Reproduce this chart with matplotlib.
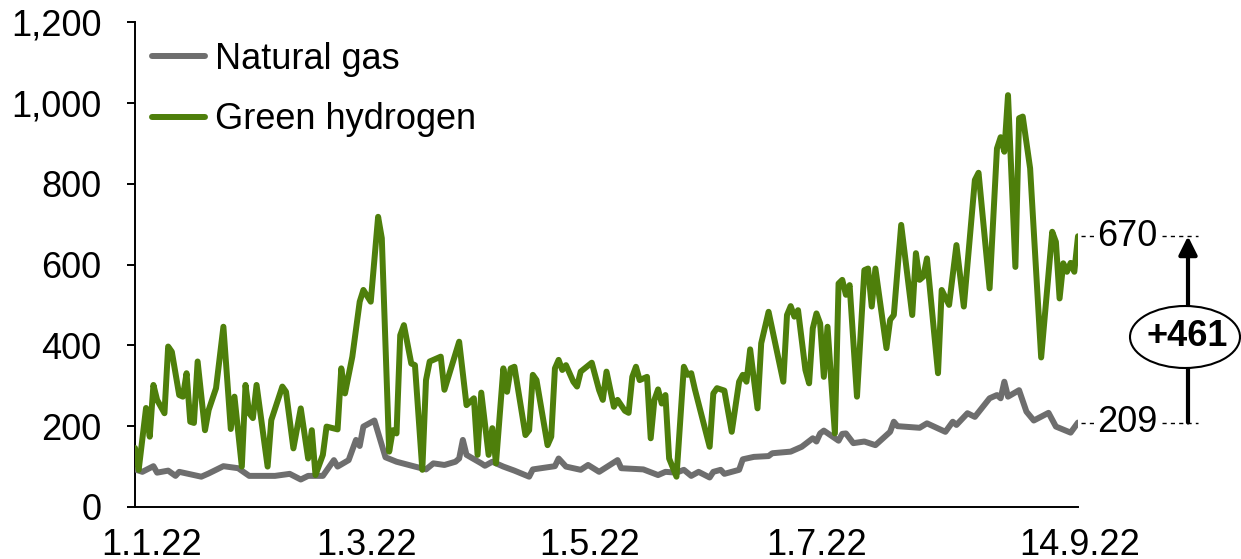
import numpy as np
import matplotlib
matplotlib.use("Agg")
import matplotlib.pyplot as plt
import matplotlib.transforms as mtransforms
from matplotlib.patches import Ellipse
from matplotlib.ticker import FuncFormatter

plt.rcParams['font.family'] = ['Liberation Sans', 'DejaVu Sans']

# Prices in EUR/MWh, indexed by days since 1 Jan 2022
gas_day = [0, 2, 5, 6, 9, 11, 12, 18, 20, 24, 28, 31, 38, 42, 45, 47, 51, 52, 54, 55,
           58, 60, 61, 62, 65, 68, 71, 76, 79, 81, 84, 87, 88, 89, 90, 94, 95, 97, 100, 103,
           107, 108, 114, 115, 117, 121, 123, 126, 131, 132, 138, 142, 144, 147, 149, 151, 153, 156, 157, 159,
           160, 164, 165, 168, 172, 173, 178, 181, 184, 185, 186, 187, 191, 192, 193, 195, 198, 201, 205, 206,
           207, 213, 215, 220, 222, 223, 226, 228, 232, 234, 235, 236, 237, 240, 242, 244, 248, 250, 254, 256]
gas_price = [93, 87, 101, 85, 90, 77, 87, 75, 83, 101, 96, 77, 77, 82, 68, 77, 77, 90, 116, 100,
             116, 166, 151, 199, 214, 123, 112, 100, 93, 108, 104, 112, 120, 166, 129, 108, 102, 112, 100, 90,
             75, 93, 101, 120, 100, 92, 104, 87, 116, 96, 93, 79, 87, 85, 92, 77, 87, 73, 87, 92,
             82, 92, 118, 124, 126, 133, 137, 149, 170, 162, 182, 189, 164, 181, 182, 158, 162, 153, 186, 211,
             200, 196, 207, 186, 211, 203, 232, 223, 269, 277, 269, 310, 273, 289, 236, 214, 233, 199, 184, 209]

h2_day = [0, 1, 3, 4, 5, 6, 8, 9, 10, 12, 13, 14, 15, 16, 17, 19, 20, 22, 24, 26,
          27, 29, 30, 31, 32, 33, 36, 37, 40, 41, 43, 45, 47, 48, 49, 51, 52, 55, 56, 57,
          59, 61, 62, 64, 66, 67, 69, 70, 71, 72, 73, 75, 76, 78, 79, 80, 83, 84, 88, 90,
          92, 93, 94, 96, 97, 98, 100, 101, 102, 103, 106, 107, 108, 109, 112, 113, 114, 115, 116, 117,
          119, 120, 121, 124, 126, 127, 128, 130, 131, 133, 134, 135, 136, 137, 139, 140, 141, 142, 143, 144,
          145, 147, 149, 150, 151, 152, 156, 157, 158, 160, 162, 164, 165, 166, 167, 169, 170, 172, 176, 177,
          178, 179, 180, 182, 183, 184, 185, 186, 187, 188, 190, 191, 192, 193, 194, 196, 198, 199, 200, 201,
          204, 205, 206, 208, 211, 212, 213, 214, 215, 218, 219, 221, 223, 225, 228, 229, 232, 234, 235, 236,
          237, 239, 240, 241, 243, 246, 249, 250, 251, 252, 253, 254, 255, 256]
h2_price = [146, 92, 245, 174, 302, 265, 232, 397, 384, 277, 273, 331, 211, 208, 360, 190, 240, 294, 446, 193,
            273, 100, 302, 232, 220, 302, 100, 215, 298, 285, 145, 244, 120, 190, 79, 129, 199, 192, 343, 281,
            372, 508, 537, 508, 718, 665, 137, 190, 182, 425, 450, 355, 351, 92, 314, 360, 372, 290, 409, 252,
            269, 129, 283, 129, 195, 108, 343, 285, 343, 347, 178, 190, 327, 314, 153, 174, 343, 364, 339, 351,
            310, 298, 335, 357, 289, 265, 335, 248, 265, 238, 233, 322, 347, 314, 322, 170, 265, 291, 256, 277,
            120, 75, 347, 327, 331, 291, 149, 281, 294, 288, 186, 310, 327, 310, 390, 244, 405, 483, 310, 475,
            497, 471, 487, 339, 306, 442, 479, 454, 322, 446, 182, 553, 562, 525, 549, 273, 586, 590, 496, 590,
            393, 463, 475, 698, 475, 628, 562, 570, 615, 331, 537, 500, 648, 496, 809, 827, 541, 887, 915, 879,
            1019, 594, 962, 966, 838, 370, 681, 656, 516, 603, 582, 604, 582, 670]

series_names = ['Natural gas', 'Green hydrogen']
y_ticks = [0, 200, 400, 600, 800, 1000, 1200]
x_tick_dates = ['2022-01-01', '2022-03-01', '2022-05-01', '2022-07-01', '2022-09-14']
x_tick_labels = ['1.1.22', '1.3.22', '1.5.22', '1.7.22', '14.9.22']

GAS_COLOR = '#6E6E6E'
H2_COLOR = '#4E7F0B'
FS = 26
LW = 4.3

start = np.datetime64('2022-01-01')
gas_dates = start + np.array(gas_day, dtype='timedelta64[D]')
h2_dates = start + np.array(h2_day, dtype='timedelta64[D]')

W, H = 1241, 559
fig = plt.figure(figsize=(W / 100, H / 100), dpi=100)
ax = fig.add_axes([135 / W, 1 - 507 / H, 943 / W, 485 / H])

ax.plot(gas_dates, gas_price, color=GAS_COLOR, lw=LW, label=series_names[0],
        solid_joinstyle='round', solid_capstyle='round', zorder=3)
ax.plot(h2_dates, h2_price, color=H2_COLOR, lw=LW, label=series_names[1],
        solid_joinstyle='round', solid_capstyle='round', zorder=4)

ax.set_xlim(start, start + np.timedelta64(256, 'D'))
ax.set_ylim(0, 1200)
ax.set_yticks(y_ticks)
ax.yaxis.set_major_formatter(FuncFormatter(lambda v, p: f'{int(v):,}'))
ax.set_xticks(np.array(x_tick_dates, dtype='datetime64[D]'))
ax.set_xticklabels(x_tick_labels)

for side in ('top', 'right'):
    ax.spines[side].set_visible(False)
for side in ('left', 'bottom'):
    ax.spines[side].set_linewidth(1.4)
    ax.spines[side].set_color('black')

ax.tick_params(axis='y', labelsize=FS, length=6, width=1.4, pad=18, direction='out')
ax.tick_params(axis='x', labelsize=FS, length=0, pad=15)

# nudge the date labels to sit where the category labels are drawn
x_shift = [17, 14, 13, 15, 2]
for lab, dx in zip(ax.get_xticklabels(), x_shift):
    lab.set_transform(lab.get_transform() + mtransforms.ScaledTranslation(dx / 100, 0, fig.dpi_scale_trans))

leg = ax.legend(loc='upper left', bbox_to_anchor=(0.018, 0.959), frameon=False,
                fontsize=FS, handlelength=1.47, handletextpad=0.28, labelspacing=0.7,
                borderpad=0, borderaxespad=0)
for line in leg.get_lines():
    line.set_linewidth(LW)

# end-of-period spread annotation on the right
blend = mtransforms.blended_transform_factory(fig.transFigure, ax.transData)
end_h2 = h2_price[-1]
end_gas = gas_price[-1]
spread = end_h2 - end_gas

for val in (end_h2, end_gas):
    ax.plot([1081 / W, 1094 / W], [val, val], transform=blend, color='black', lw=1,
            ls=(0, (3, 3)), clip_on=False)
    ax.plot([1162 / W, 1198 / W], [val, val], transform=blend, color='black', lw=1,
            ls=(0, (3, 3)), clip_on=False)
    ax.text(1127 / W, val, f'{val}', transform=blend, fontsize=FS, ha='center', va='center',
            clip_on=False)

ax.annotate('', xy=(1188 / W, end_h2), xycoords=blend,
            xytext=(1188 / W, end_gas), textcoords=blend,
            arrowprops=dict(arrowstyle='-|>,head_length=1.1,head_width=0.55', color='black',
                            lw=3, shrinkA=0, shrinkB=0), annotation_clip=False)

ell = Ellipse((1185 / W, 1 - 337 / H), 110 / W, 62 / H, transform=fig.transFigure,
              facecolor='white', edgecolor='black', lw=1.5, zorder=10)
fig.add_artist(ell)
fig.text(1187 / W, 1 - 337 / H, f'+{spread}', fontsize=FS, fontweight='bold',
         ha='center', va='center', zorder=11)

fig.savefig('out.png', dpi=100)
